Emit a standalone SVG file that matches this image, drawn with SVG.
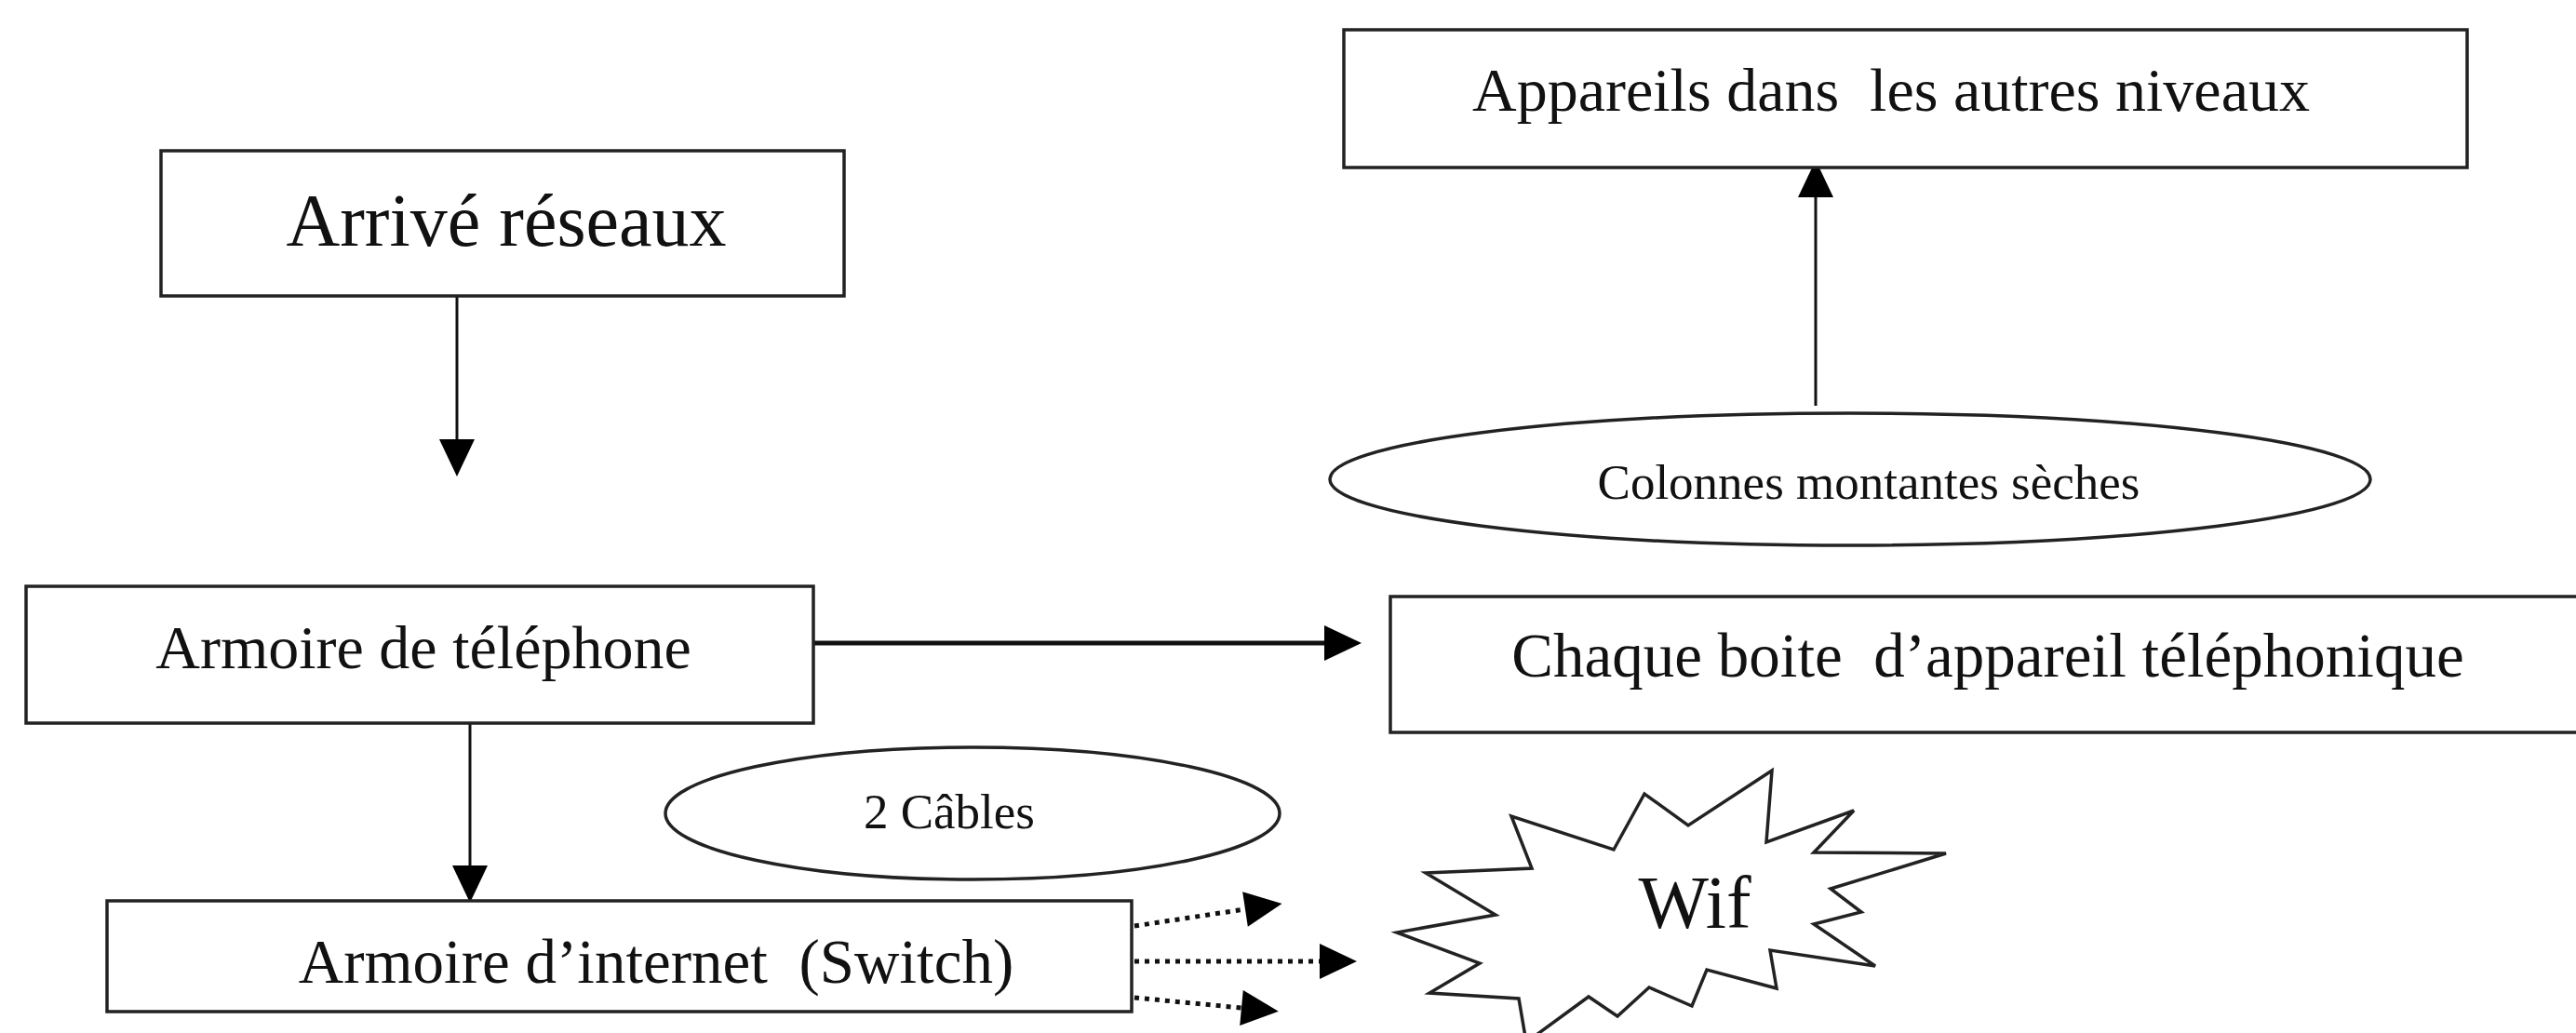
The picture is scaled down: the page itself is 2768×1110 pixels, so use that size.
<svg xmlns="http://www.w3.org/2000/svg" width="2768" height="1110" viewBox="0 0 2768 1110">
<style>
  .box { fill: #fff; stroke: #222; stroke-width: 3.5; }
  .ell { fill: #fff; stroke: #222; stroke-width: 3.5; }
  .star { fill: #fff; stroke: #222; stroke-width: 3.5; stroke-linejoin: miter; }
  .t { font-family: "Liberation Serif", "Times New Roman", serif; fill: #111; text-anchor: middle; }
  .big { font-size: 80px; }
  .mid { font-size: 67px; }
  .sm { font-size: 53px; }
  .ln { stroke: #111; stroke-width: 3; fill: none; }
  .thick { stroke-width: 5; }
  .dot { stroke: #111; stroke-width: 5; stroke-dasharray: 5 6; fill: none; }
</style>
<defs>
  <marker id="head" markerUnits="userSpaceOnUse" markerWidth="40" markerHeight="38" refX="0" refY="19" orient="auto" overflow="visible">
    <path d="M0,0 L40,19 L0,38 Z" fill="#000"/>
  </marker>
</defs>
<rect width="2768" height="1110" fill="#fff"/>

<g id="connectors">
  <line class="ln" x1="491" y1="318" x2="491" y2="472" marker-end="url(#head)"/>
  <line class="ln" x1="1951" y1="436" x2="1951" y2="212" marker-end="url(#head)"/>
  <line class="ln thick" x1="874" y1="691" x2="1423" y2="691" marker-end="url(#head)"/>
  <line class="ln" x1="505" y1="777" x2="505" y2="930" marker-end="url(#head)"/>
  <line class="dot" x1="1219" y1="995" x2="1338" y2="977" marker-end="url(#head)"/>
  <line class="dot" x1="1219" y1="1033" x2="1418" y2="1033" marker-end="url(#head)"/>
  <line class="dot" x1="1219" y1="1072" x2="1334" y2="1083" marker-end="url(#head)"/>
</g>

<g id="node-arrive">
  <rect class="box" x="173" y="162" width="734" height="156"/>
  <text class="t big" x="544" y="264">Arrivé réseaux</text>
</g>

<g id="node-appareils">
  <rect class="box" x="1444" y="32" width="1207" height="148"/>
  <text class="t" style="font-size:66px" x="2032" y="119" xml:space="preserve">Appareils dans  les autres niveaux</text>
</g>

<g id="node-colonnes">
  <ellipse class="ell" cx="1988" cy="515" rx="559" ry="71"/>
  <text class="t sm" x="2008" y="536">Colonnes montantes sèches</text>
</g>

<g id="node-armoire-tel">
  <rect class="box" x="28" y="630" width="846" height="147"/>
  <text class="t" style="font-size:66px" x="455" y="718">Armoire de téléphone</text>
</g>

<g id="node-chaque">
  <rect class="box" x="1494" y="641" width="1320" height="146"/>
  <text class="t mid" x="2136" y="727" xml:space="preserve">Chaque boite  d’appareil téléphonique</text>
</g>

<g id="node-cables">
  <ellipse class="ell" cx="1045" cy="874" rx="330" ry="71"/>
  <text class="t sm" x="1020" y="890">2 Câbles</text>
</g>

<g id="node-armoire-internet">
  <rect class="box" x="115" y="968" width="1101" height="119"/>
  <text class="t mid" x="705" y="1056" xml:space="preserve">Armoire d’internet  (Switch)</text>
</g>

<g id="node-wif">
  <polygon class="star" points="1904,828 1898,905 1992,871 1949,916 2091,917 1967,955 2000,980 1949,993 2015,1038 1902,1021 1909,1062 1834,1042 1818,1081 1772,1061 1738,1092 1707,1071 1640,1120 1632,1073 1536,1067 1590,1035 1501,1002 1607,983 1532,938 1646,933 1624,877 1734,913 1767,853 1814,887"/>
  <text class="t big" x="1821" y="997">Wif</text>
</g>
</svg>
